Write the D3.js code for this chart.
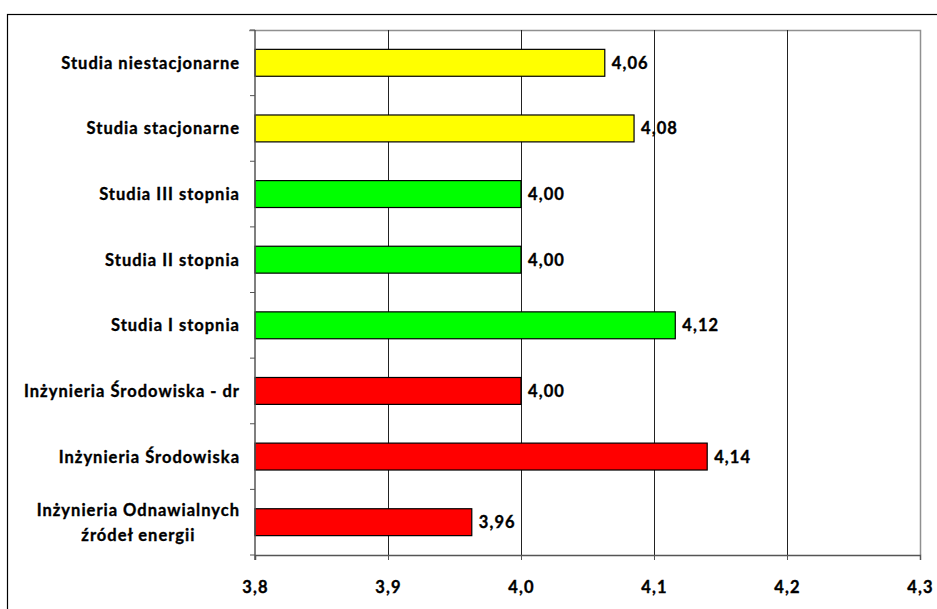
<!DOCTYPE html>
<html><head><meta charset="utf-8">
<script src="https://cdn.jsdelivr.net/npm/d3@7"></script>
<style>body{margin:0;background:#fff}svg{display:block}text{font-family:Lato,"Open Sans",sans-serif;font-weight:bold;fill:#000;stroke:#000;stroke-width:0.35px}</style>
</head><body><svg id="c" width="937" height="609"></svg>
<script>
const categories = ["Studia niestacjonarne","Studia stacjonarne","Studia III stopnia","Studia II stopnia","Studia I stopnia","Inżynieria Środowiska - dr","Inżynieria Środowiska","Inżynieria Odnawialnych\nźródeł energii"];
const values = [4.063,4.085,4.00,4.00,4.116,4.00,4.14,3.963];
const colors = ["#ffff00","#ffff00","#00ff00","#00ff00","#00ff00","#ff0000","#ff0000","#ff0000"];
const xTicks = [3.8,3.9,4.0,4.1,4.2,4.3];

const svg = d3.select("#c");
const L=255,R=920,T=30,B=555;
svg.append("rect").attr("x",7.5).attr("y",14.5).attr("width",940).attr("height",600).attr("fill","none").attr("stroke","#000").attr("stroke-width",1.2);
const x = d3.scaleLinear().domain([3.8,4.3]).range([L,R]);
const y = d3.scaleBand().domain(categories).range([T,B]).paddingInner(0.59).paddingOuter(0.295);
const fmt = v => v.toFixed(2).replace(".",",");
// plot border top/right
svg.append("path").attr("d",`M${L-6},${T+0.5}H${R+0.5}V${B}`).attr("fill","none").attr("stroke","#909090").attr("stroke-width",1.5);
// gridlines
svg.append("g").selectAll("line").data(xTicks.slice(1,-1)).join("line")
  .attr("x1",d=>Math.round(x(d))+0.5).attr("x2",d=>Math.round(x(d))+0.5).attr("y1",T).attr("y2",B).attr("stroke","#222").attr("stroke-width",1);
// bars
svg.append("g").selectAll("rect").data(values).join("rect")
  .attr("x",x(3.8)).attr("y",(d,i)=>y(categories[i])).attr("width",d=>x(d)-x(3.8)).attr("height",y.bandwidth())
  .attr("fill",(d,i)=>colors[i]).attr("stroke","#000").attr("stroke-width",1.2);
// value labels
svg.append("g").selectAll("text").data(values).join("text")
  .attr("x",d=>x(d)+7).attr("y",(d,i)=>y(categories[i])+y.bandwidth()/2).attr("dy","0.36em")
  .attr("font-size",16.5).attr("letter-spacing",1.1).text(fmt);
// x axis
const xa = svg.append("g").attr("transform",`translate(0,${B})`).call(d3.axisBottom(x).tickValues(xTicks).tickSize(5).tickFormat(d=>d.toFixed(1).replace(".",",")));
xa.attr("font-size",null).attr("font-family",null);
xa.select(".domain").attr("stroke","#555").attr("stroke-width",1.5);
xa.selectAll(".tick line").attr("stroke","#555");
xa.selectAll("text").style("font-size","16.5px").attr("letter-spacing",1.2).attr("y",38).attr("dy",0).attr("fill","#000");
// y axis
svg.append("line").attr("x1",L).attr("x2",L).attr("y1",T).attr("y2",B+5).attr("stroke","#555").attr("stroke-width",1.5);
const bounds = d3.range(categories.length+1).map(i=>T+i*(B-T)/categories.length);
svg.append("g").selectAll("line").data(bounds).join("line")
  .attr("x1",L-5).attr("x2",L).attr("y1",d=>d).attr("y2",d=>d).attr("stroke","#555");
// y labels
const lg = svg.append("g");
categories.forEach((c,i)=>{
  const lines = c.split("\n");
  const t = lg.append("text").attr("font-size",16.5).attr("letter-spacing",1).attr("text-anchor","middle");
  const cy = y(c)+y.bandwidth()/2;
  lines.forEach((ln,j)=>{
    t.append("tspan").attr("x",0).attr("y",cy+(j-(lines.length-1)/2)*25).attr("dy","0.36em").text(ln);
  });
  const w = t.node().getBBox().width;
  t.selectAll("tspan").attr("x",240-w/2);
});
</script></body></html>
